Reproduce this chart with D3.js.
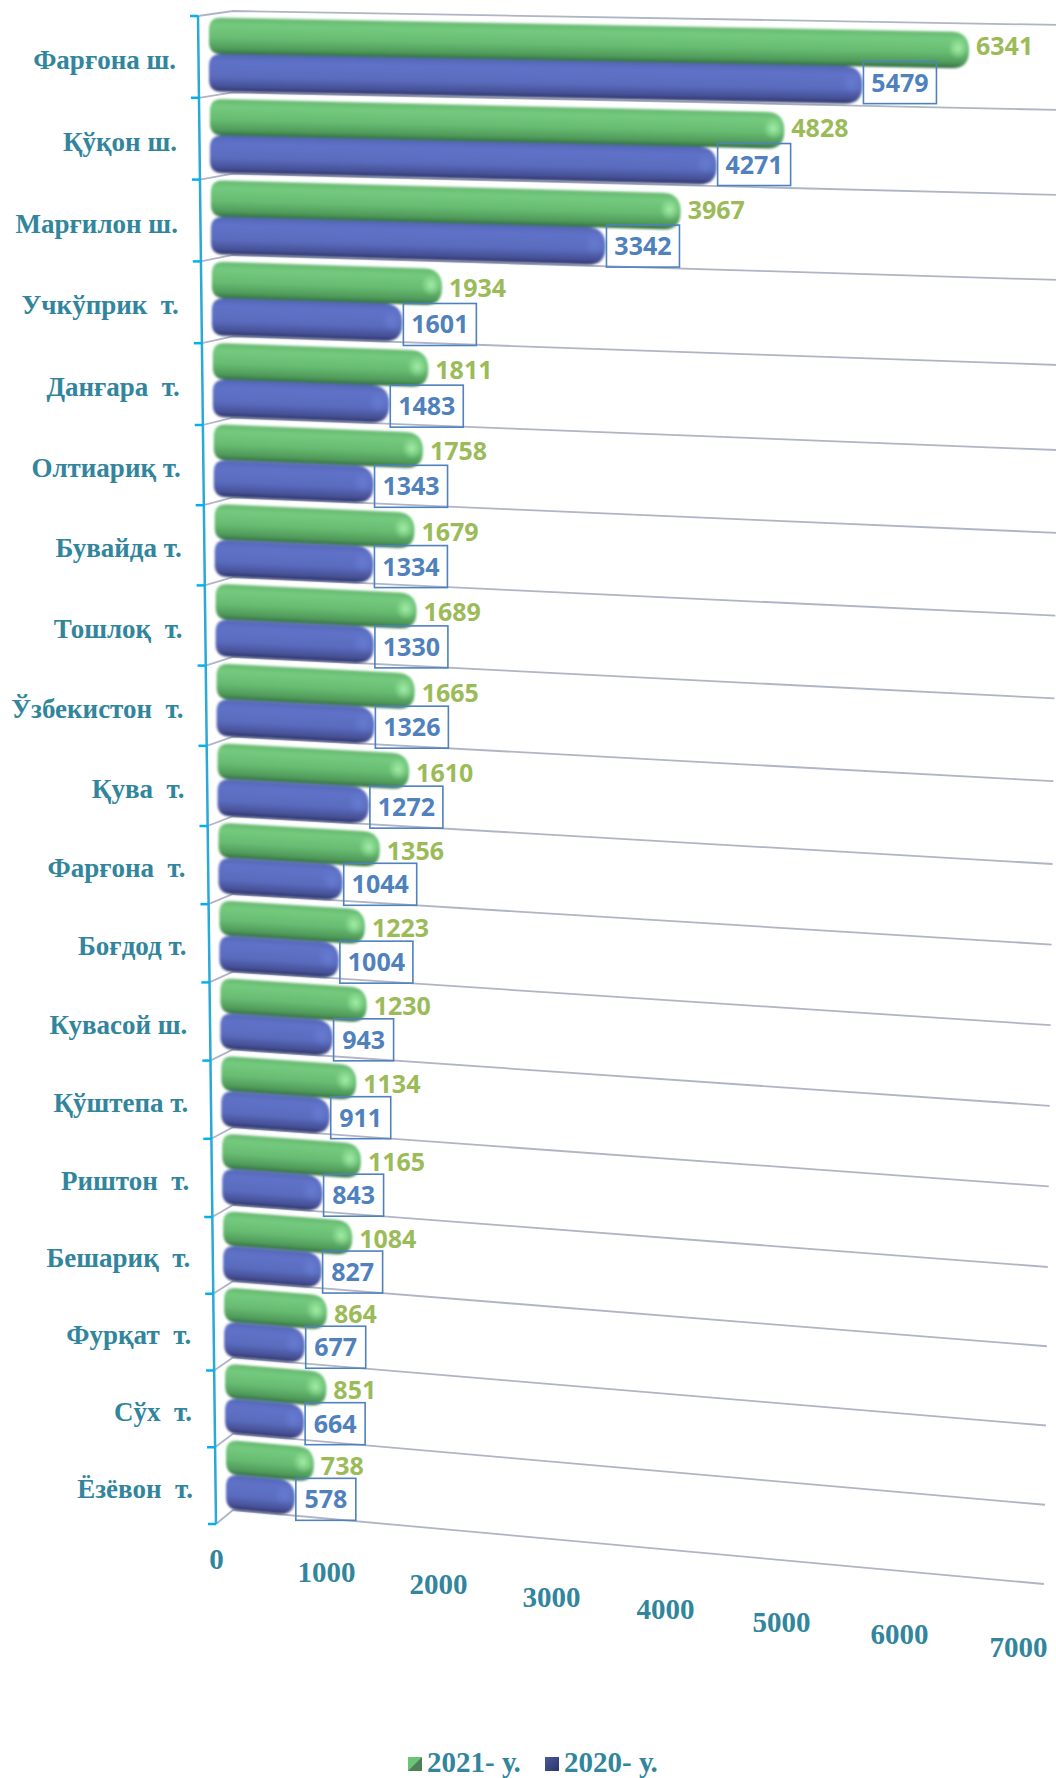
<!DOCTYPE html>
<html>
<head>
<meta charset="utf-8">
<script src="https://cdn.jsdelivr.net/npm/d3@7"></script>
<style>
  html, body { margin: 0; padding: 0; background: #fff; }
  svg { display: block; }
  text { white-space: pre; }
</style>
</head>
<body>
<div id="viz"></div>
<script>
const categories = ["Фарғона ш.", "Қўқон ш.", "Марғилон ш.", "Учкўприк  т.", "Данғара  т.", "Олтиариқ т.",
    "Бувайда т.", "Тошлоқ  т.", "Ўзбекистон  т.", "Қува  т.", "Фарғона  т.", "Боғдод т.", "Кувасой ш.",
    "Қўштепа т.", "Риштон  т.", "Бешариқ  т.", "Фурқат  т.", "Сўх  т.", "Ёзёвон  т."];
const values2021 = [6341, 4828, 3967, 1934, 1811, 1758, 1679, 1689, 1665, 1610, 1356, 1223, 1230, 1134, 1165, 1084, 864, 851, 738];
const values2020 = [5479, 4271, 3342, 1601, 1483, 1343, 1334, 1330, 1326, 1272, 1044, 1004, 943, 911, 843, 827, 677, 664, 578];
const valueTicks = [0, 1000, 2000, 3000, 4000, 5000, 6000, 7000];
const legendItems = ["2021- у.", "2020- у."];

const width = 1056, height = 1778;
const rows = categories.length;
const boundaries = d3.range(rows + 1);

// the picture is a 3D excel chart, so everything is scales fitted to the perspective
const frontY = d3.scaleLinear().domain([0, 5, 10, 15, 19]).range([16, 425, 826, 1217, 1524]);
const depthY = d3.scaleLinear().domain([0, 19]).range([5, 14]);
const rightY = d3.scaleLinear().domain([0, 5, 10, 15, 19]).range([25, 450, 864, 1267, 1584]);
const axisX = d3.scaleLinear().domain([0, 19]).range([198, 216]);
const gridEndX = d3.scaleLinear().domain([0, 19]).range([1062, 1044]);
const barLen = d3.scaleLinear().domain([0, 2000, 3500, 5500, 6341, 7000]).range([0, 238, 413, 656, 760, 838]);
const tickX = d3.scaleLinear().domain(valueTicks).range([216, 326, 438, 551, 665, 781, 899, 1018]);
const tickY = d3.scaleLinear().domain([0, 7000]).range([1569, 1657]);
// labels of the shorter bars sit a little lower than the tilt alone gives
const labelDrop = d3.scaleLinear().domain([200, 500, 760]).range([5, 2, 0]).clamp(true);

const backX = 233;
const backY = i => frontY(i) - depthY(i);
const slope = i => (rightY(i) - backY(i)) / (gridEndX(i) - backX);

const svg = d3.select("#viz").append("svg").attr("width", width).attr("height", height);
const defs = svg.append("defs");

function addGradient(id, stops) {
    const g = defs.append("linearGradient").attr("id", id).attr("x1", 0).attr("y1", 0).attr("x2", 0).attr("y2", 1);
    stops.forEach(s => g.append("stop").attr("offset", s[0]).attr("stop-color", s[1]));
}
addGradient("greenBar", [[0, "#66b870"], [0.2, "#74ca7e"], [0.55, "#68bc72"], [0.85, "#4f9a5a"], [1, "#336b40"]]);
addGradient("blueBar", [[0, "#5466b4"], [0.2, "#5f72c8"], [0.6, "#5a6cbe"], [0.87, "#454f94"], [1, "#2b3363"]]);

function addGlow(id, color, opacity) {
    const g = defs.append("radialGradient").attr("id", id);
    g.append("stop").attr("offset", 0).attr("stop-color", color).attr("stop-opacity", opacity);
    g.append("stop").attr("offset", 1).attr("stop-color", color).attr("stop-opacity", 0);
}
addGlow("greenGlow", "#a8f2aa", 0.9);
addGlow("blueGlow", "#7088e0", 0.5);

defs.append("filter").attr("id", "soft").append("feGaussianBlur").attr("stdDeviation", 0.8);
defs.append("filter").attr("id", "softLine")
    .attr("filterUnits", "userSpaceOnUse").attr("x", 0).attr("y", 0).attr("width", width).attr("height", height)
    .append("feGaussianBlur").attr("stdDeviation", 0.5);

const legendGreen = defs.append("linearGradient").attr("id", "legendGreen").attr("x1", 0).attr("y1", 0).attr("x2", 1).attr("y2", 1);
legendGreen.append("stop").attr("offset", 0.48).attr("stop-color", "#6cc478");
legendGreen.append("stop").attr("offset", 0.52).attr("stop-color", "#4f7f58");
const legendBlue = defs.append("linearGradient").attr("id", "legendBlue").attr("x1", 0).attr("y1", 0).attr("x2", 1).attr("y2", 1);
legendBlue.append("stop").attr("offset", 0).attr("stop-color", "#4a5a9c");
legendBlue.append("stop").attr("offset", 1).attr("stop-color", "#2a3668");

// gridlines
svg.append("g").attr("filter", "url(#softLine)").selectAll("path").data(boundaries).join("path")
    .attr("d", i => d3.line()([[axisX(i), frontY(i)], [backX, backY(i)], [gridEndX(i), rightY(i)]]))
    .attr("fill", "none")
    .attr("stroke", "#b0b5c6")
    .attr("stroke-width", 1.8);

// category axis
svg.append("line")
    .attr("x1", axisX(0)).attr("y1", frontY(0))
    .attr("x2", axisX(19)).attr("y2", frontY(19))
    .attr("stroke", "#2aa9d6").attr("stroke-width", 2.5);
svg.append("g").selectAll("line").data(boundaries).join("line")
    .attr("x1", i => axisX(i) - 8).attr("x2", i => axisX(i))
    .attr("y1", i => frontY(i)).attr("y2", i => frontY(i))
    .attr("stroke", "#00b0f0").attr("stroke-width", 2.5);

svg.append("g").selectAll("text").data(categories).join("text")
    .attr("x", (d, i) => axisX(i) - 22)
    .attr("y", (d, i) => (frontY(i) + frontY(i + 1)) / 2 + 12)
    .attr("text-anchor", "end")
    .attr("font-family", "Liberation Serif")
    .attr("font-weight", "bold")
    .attr("font-size", 27)
    .attr("fill", "#31859c")
    .text(d => d);

function barPath(len, h) {
    const rl = Math.min(12, h / 2), rr = h * 0.48;
    return `M${rl},0 L${len - rr},0 Q${len},0 ${len},${rr} L${len},${h - rr} Q${len},${h} ${len - rr},${h}`
        + ` L${rl},${h} Q0,${h} 0,${h - rl} L0,${rl} Q0,0 ${rl},0 Z`;
}

// bars, per row: green above blue, sheared so the left ends stay in line
const rowData = categories.map((c, i) => {
    const band = backY(i + 1) - backY(i);
    const s = (slope(i) + slope(i + 1)) / 2;
    return {
        i, s,
        left: axisX(i) + 11,
        top: backY(i),
        series: [
            { key: "green", v: values2021[i], y: 0.08 * band, h: 0.45 * band },
            { key: "blue", v: values2020[i], y: 0.53 * band, h: 0.46 * band }
        ]
    };
});

const rowG = svg.append("g").selectAll("g").data(rowData).join("g")
    .attr("transform", d => `translate(${d.left},${d.top}) skewY(${Math.atan(d.s) * 180 / Math.PI})`)
    .attr("filter", "url(#soft)");

rowG.selectAll("path").data(d => d.series).join("path")
    .attr("transform", d => `translate(0,${d.y})`)
    .attr("d", d => barPath(barLen(d.v), d.h))
    .attr("fill", d => d.key == "green" ? "url(#greenBar)" : "url(#blueBar)");

rowG.selectAll("ellipse").data(d => d.series).join("ellipse")
    .attr("cx", d => barLen(d.v) - 11)
    .attr("cy", d => d.y + d.h * 0.45)
    .attr("rx", 10).attr("ry", 11)
    .attr("fill", d => d.key == "green" ? "url(#greenGlow)" : "url(#blueGlow)");

// data labels, worked out from where each sheared bar ends
const labelFont = "Open Sans";
const endPoint = (row, b) => {
    const len = barLen(b.v);
    return { x: row.left + len, y: row.top + b.y + b.h / 2 + len * row.s + labelDrop(len) };
};

svg.append("g").selectAll("text").data(rowData).join("text")
    .attr("x", d => endPoint(d, d.series[0]).x + 7)
    .attr("y", d => endPoint(d, d.series[0]).y + 5)
    .attr("font-family", labelFont).attr("font-weight", "bold").attr("font-size", 25)
    .attr("fill", "#9bbb59")
    .text(d => d.series[0].v);

const blueLabels = svg.append("g").selectAll("g").data(rowData).join("g")
    .attr("transform", d => {
        const e = endPoint(d, d.series[1]);
        return `translate(${e.x + 1},${e.y - 24.5})`;
    });
const boxW = v => String(v).length == 4 ? 73 : 60;
blueLabels.append("rect")
    .attr("width", d => boxW(d.series[1].v)).attr("height", 42)
    .attr("fill", "none").attr("stroke", "#4f81bd").attr("stroke-width", 1.6);
blueLabels.append("text")
    .attr("x", d => boxW(d.series[1].v) / 2).attr("y", 30)
    .attr("text-anchor", "middle")
    .attr("font-family", labelFont).attr("font-weight", "bold").attr("font-size", 25)
    .attr("fill", "#4f81bd")
    .text(d => d.series[1].v);

// value axis, labels step down with the floor of the chart
const xAxis = svg.append("g").attr("class", "x-axis")
    .call(d3.axisBottom(tickX).tickValues(valueTicks).tickFormat(d3.format("d")).tickSize(0));
xAxis.select(".domain").remove();
xAxis.selectAll(".tick text")
    .attr("y", d => tickY(d))
    .attr("dy", 0)
    .attr("font-family", "Liberation Serif")
    .attr("font-weight", "bold")
    .attr("font-size", 29)
    .attr("fill", "#31859c");

// legend
const legend = svg.append("g").selectAll("g").data(legendItems).join("g")
    .attr("transform", (d, i) => `translate(${408 + i * 137},1757)`);
legend.append("rect")
    .attr("width", 14).attr("height", 14)
    .attr("fill", (d, i) => i == 0 ? "url(#legendGreen)" : "url(#legendBlue)");
legend.append("text")
    .attr("x", 19).attr("y", 15)
    .attr("font-family", "Liberation Serif")
    .attr("font-weight", "bold")
    .attr("font-size", 29)
    .attr("fill", "#31859c")
    .text(d => d);
</script>
</body>
</html>
